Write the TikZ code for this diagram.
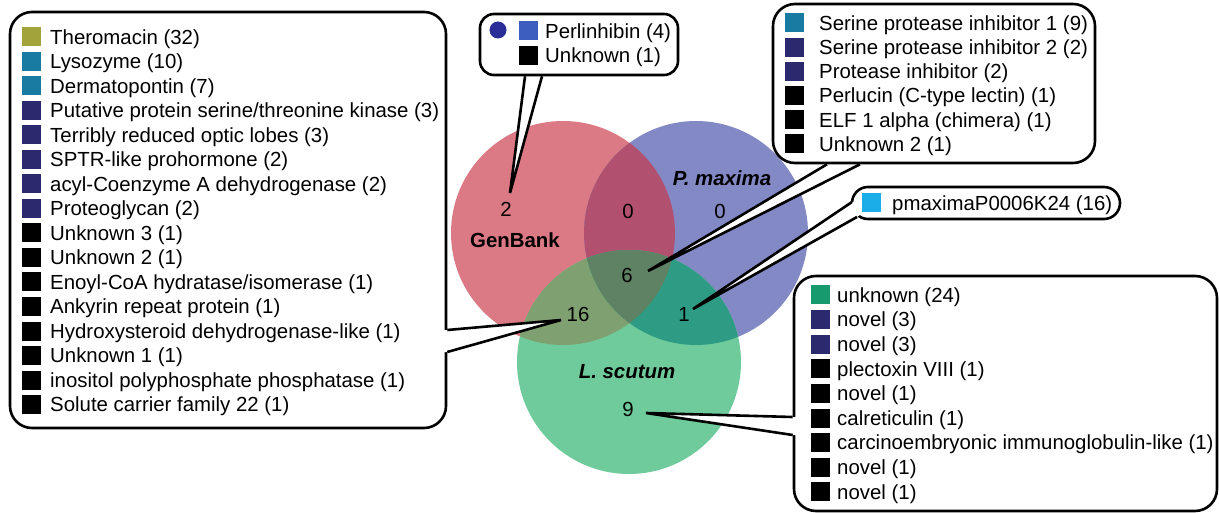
\documentclass[tikz,border=0pt]{standalone}
\usepackage{fontspec}
\setmainfont{Liberation Sans}
\usetikzlibrary{calc}
\definecolor{cR}{HTML}{DB7A85}
\definecolor{cB}{HTML}{8389C4}
\definecolor{cG}{HTML}{6FCB9B}
\definecolor{cRB}{HTML}{B1506F}
\definecolor{cRG}{HTML}{7FA171}
\definecolor{cBG}{HTML}{2E9C84}
\definecolor{cRBG}{HTML}{5E8263}
\definecolor{qolive}{HTML}{A3A33C}
\definecolor{qteal}{HTML}{1A7BA2}
\definecolor{qnavy}{HTML}{2B2A6E}
\definecolor{qblk}{HTML}{000000}
\definecolor{qcirc}{HTML}{2B2D99}
\definecolor{qblue}{HTML}{3D5DBF}
\definecolor{qcyan}{HTML}{1BADE8}
\definecolor{qgreen}{HTML}{169A6E}
\tikzset{
  bubble/.style={draw=black, line width=2.6pt, fill=white, rounded corners=22pt, inner sep=0pt},
  tailline/.style={draw=black, line width=2.6pt, line join=miter},
  sq/.style={minimum size=19pt, inner sep=0pt, draw=none},
  itemtxt/.style={anchor=base west, inner sep=0pt, font=\fontsize{20.4}{24}\selectfont},
  num/.style={inner sep=0pt, font=\fontsize{20.4}{24}\selectfont},
  setlbl/.style={inner sep=0pt, font=\fontsize{20.4}{24}\selectfont\bfseries},
}
\begin{document}
\begin{tikzpicture}[x=1pt,y=-1pt]
\useasboundingbox (0,0) rectangle (1219,513);
% ---------- Venn ----------
\coordinate (cgen) at (563,233);
\coordinate (cpm) at (696,233);
\coordinate (cls) at (629,362);
\def\rr{112}
\fill[cR] (cgen) circle[radius=\rr];
\fill[cB] (cpm) circle[radius=\rr];
\fill[cG] (cls) circle[radius=\rr];
\begin{scope}\clip (cgen) circle[radius=\rr]; \fill[cRB] (cpm) circle[radius=\rr]; \fill[cRG] (cls) circle[radius=\rr];\end{scope}
\begin{scope}\clip (cpm) circle[radius=\rr]; \fill[cBG] (cls) circle[radius=\rr];\end{scope}
\begin{scope}\clip (cgen) circle[radius=\rr]; \clip (cpm) circle[radius=\rr]; \fill[cRBG] (cls) circle[radius=\rr];\end{scope}
\node[setlbl] (lgen) at (515,240) {GenBank};
\node[setlbl] (lpm) at (722,178) {\itshape P. maxima};
\node[setlbl] (lls) at (627,372) {\itshape L. scutum};
\node[num] (n2) at (506,209) {2};
\node[num] (n0a) at (628,211) {0};
\node[num] (n0b) at (720,211) {0};
\node[num] (n6) at (627,275) {6};
\node[num] (n16) at (578,314) {16};
\node[num] (n1) at (684,314) {1};
\node[num] (n9) at (628,409) {9};
\coordinate (t2) at (510,193);
\coordinate (t6) at (648,271);
\coordinate (t16) at (561,320);
\coordinate (t1) at (693,309);
\coordinate (t9) at (646,413);
% ---------- Left box ----------
\node[bubble, minimum width=436pt, minimum height=416pt] (lbox) at (228,220) {};
\fill[white] (lbox.east |- 0,330) -- (t16) -- (lbox.east |- 0,352) -- ([xshift=-4pt]lbox.east |- 0,352) -- ([xshift=-4pt]lbox.east |- 0,330) -- cycle;
\draw[tailline] (lbox.east |- 0,330) -- (t16) -- (lbox.east |- 0,352);
\foreach \c/\t [count=\i] in {
  qolive/{Theromacin (32)},
  qteal/{Lysozyme (10)},
  qteal/{Dermatopontin (7)},
  qnavy/{Putative protein serine/threonine kinase (3)},
  qnavy/{Terribly reduced optic lobes (3)},
  qnavy/{SPTR-like prohormone (2)},
  qnavy/{acyl-Coenzyme A dehydrogenase (2)},
  qnavy/{Proteoglycan (2)},
  qblk/{Unknown 3 (1)},
  qblk/{Unknown 2 (1)},
  qblk/{Enoyl-CoA hydratase/isomerase (1)},
  qblk/{Ankyrin repeat protein (1)},
  qblk/{Hydroxysteroid dehydrogenase-like (1)},
  qblk/{Unknown 1 (1)},
  qblk/{inositol polyphosphate phosphatase (1)},
  qblk/{Solute carrier family 22 (1)}} {
  \pgfmathsetmacro{\yy}{37+(\i-1)*24.5}
  \node[sq, fill=\c] (lsq\i) at (31.5,\yy) {};
  \node[itemtxt] (lt\i) at (50,\yy+7.3) {\t};
}
% ---------- Perlinhibin box ----------
\node[bubble, rounded corners=14pt, minimum width=198pt, minimum height=61pt] (pbox) at (579,44.5) {};
\fill[white] (pbox.south -| 525,0) -- (t2) -- (pbox.south -| 542,0) -- ([yshift=-4pt]pbox.south -| 542,0) -- ([yshift=-4pt]pbox.south -| 525,0) -- cycle;
\draw[tailline] (pbox.south -| 525,0) -- (t2) -- (pbox.south -| 542,0);
\node[circle, fill=qcirc, minimum size=17pt, inner sep=0pt] (pcirc) at (498,30) {};
\node[sq, fill=qblue] (psq1) at (528,31) {};
\node[itemtxt] (pt1) at (545,31+7.3) {Perlinhibin (4)};
\node[sq, fill=qblk] (psq2) at (528,55.5) {};
\node[itemtxt] (pt2) at (545,55.5+7.3) {Unknown (1)};
% ---------- Top right box ----------
\node[bubble, minimum width=322pt, minimum height=159pt] (rbox) at (934,83.5) {};
\fill[white] (rbox.south -| 827,0) -- (t6) -- (rbox.south -| 860,0) -- ([yshift=-4pt]rbox.south -| 860,0) -- ([yshift=-4pt]rbox.south -| 827,0) -- cycle;
\draw[tailline] (rbox.south -| 827,0) -- (t6) -- (rbox.south -| 860,0);
\foreach \c/\t [count=\i] in {
  qteal/{Serine protease inhibitor 1 (9)},
  qnavy/{Serine protease inhibitor 2 (2)},
  qnavy/{Protease inhibitor (2)},
  qblk/{Perlucin (C-type lectin) (1)},
  qblk/{ELF 1 alpha (chimera) (1)},
  qblk/{Unknown 2 (1)}} {
  \pgfmathsetmacro{\yy}{23+(\i-1)*24.2}
  \node[sq, fill=\c] (rsq\i) at (794.5,\yy) {};
  \node[itemtxt] (rt\i) at (819,\yy+7.3) {\t};
}
% ---------- pmaxima box ----------
\node[bubble, rounded corners=16pt, minimum width=268pt, minimum height=32pt] (mbox) at (986,203) {};
\fill[white] (852,202) -- (t1) -- (857,217) -- (864,212) -- (864,203) -- cycle;
\draw[tailline] (852,202) -- (t1) -- (857,217);
\node[sq, fill=qcyan] (msq) at (871,203) {};
\node[itemtxt] (mt) at (892,203+7.3) {pmaximaP0006K24 (16)};
% ---------- Bottom right box ----------
\node[bubble, minimum width=423pt, minimum height=235pt] (bbox) at (1005.5,393.5) {};
\fill[white] (bbox.west |- 0,417) -- (t9) -- (bbox.west |- 0,435) -- ([xshift=4pt]bbox.west |- 0,435) -- ([xshift=4pt]bbox.west |- 0,417) -- cycle;
\draw[tailline] (bbox.west |- 0,417) -- (t9) -- (bbox.west |- 0,435);
\foreach \c/\t [count=\i] in {
  qgreen/{unknown (24)},
  qnavy/{novel (3)},
  qnavy/{novel (3)},
  qblk/{plectoxin VIII (1)},
  qblk/{novel (1)},
  qblk/{calreticulin (1)},
  qblk/{carcinoembryonic immunoglobulin-like (1)},
  qblk/{novel (1)},
  qblk/{novel (1)}} {
  \pgfmathsetmacro{\yy}{295+(\i-1)*24.6}
  \node[sq, fill=\c] (bsq\i) at (820,\yy) {};
  \node[itemtxt] (bt\i) at (837,\yy+7.3) {\t};
}
\end{tikzpicture}
\end{document}
